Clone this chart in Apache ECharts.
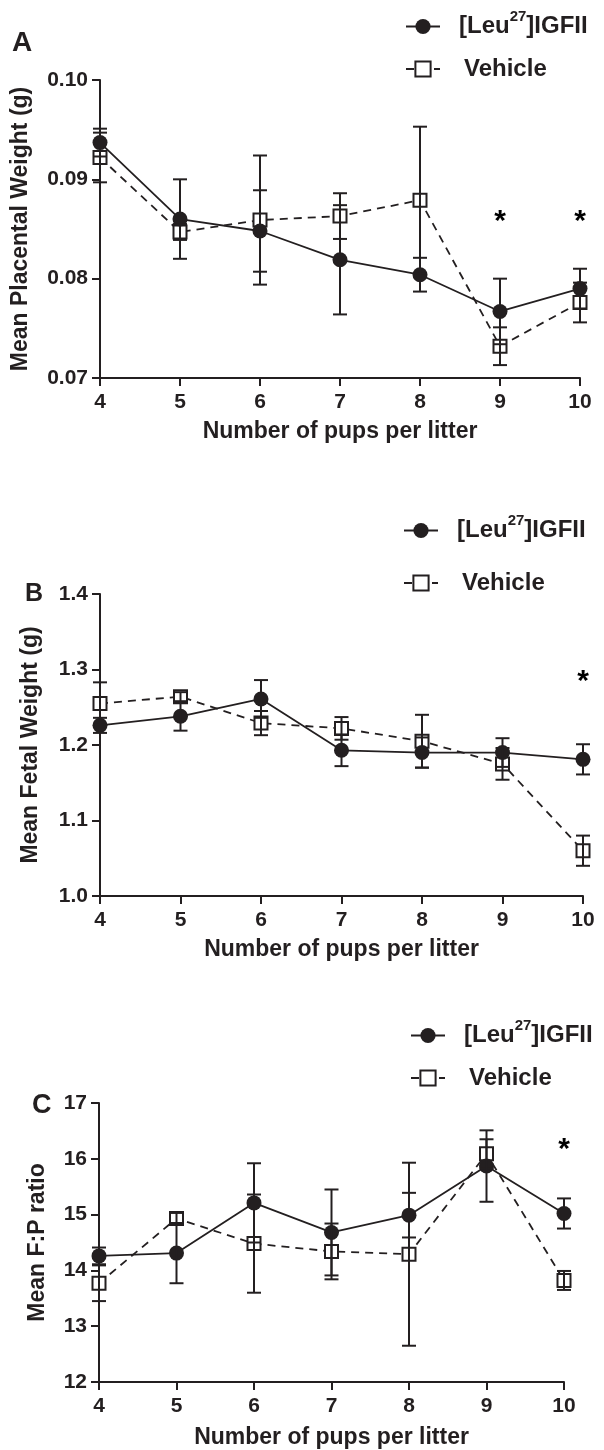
<!DOCTYPE html>
<html style="height: 100%">
  <head>
    <meta charset="UTF-8">
  </head>
  <body style="height: 100%; margin: 0; background: #fff">
    <div id="container" style="width: 604px; height: 1450px"></div>
    <script src="https://cdn.jsdelivr.net/npm/echarts@6/dist/echarts.min.js"></script>
    <script>
    // pups per litter
    var litter = [4, 5, 6, 7, 8, 9, 10];

    // A: placental weight (g)
    var aLeu = [0.0937, 0.0860, 0.0848, 0.0819, 0.0804, 0.0767, 0.0790];
    var aLeuErr = [0.0014, 0.0040, 0.0041, 0.0055, 0.0017, 0.0033, 0.0020];
    var aVeh = [0.0922, 0.0847, 0.0859, 0.0863, 0.0879, 0.0732, 0.0776];
    var aVehErr = [0.0025, 0.0008, 0.0065, 0.0023, 0.0074, 0.0019, 0.0020];
    var aStarX = [9, 10];
    var aStarY = [0.0864, 0.0864];

    // B: fetal weight (g)
    var bLeu = [1.226, 1.238, 1.261, 1.193, 1.190, 1.190, 1.181];
    var bLeuErr = [0.010, 0.019, 0.025, 0.021, 0.020, 0.019, 0.020];
    var bVeh = [1.255, 1.264, 1.229, 1.222, 1.205, 1.175, 1.060];
    var bVehErr = [0.028, 0.006, 0.016, 0.015, 0.035, 0.021, 0.020];
    var bStarX = [10];
    var bStarY = [1.293];

    // C: F:P ratio
    var cLeu = [14.26, 14.31, 15.21, 14.68, 14.99, 15.87, 15.02];
    var cLeuErr = [0.15, 0.54, 0.71, 0.77, 0.40, 0.64, 0.27];
    var cVeh = [13.77, 14.93, 14.48, 14.34, 14.29, 16.09, 13.82];
    var cVehErr = [0.32, 0.10, 0.88, 0.50, 1.64, 0.26, 0.17];
    var cStarX = [10];
    var cStarY = [16.29];

    var FONT = '"Liberation Sans", Arial, sans-serif';
    var INK = '#231f20';

    var chart = echarts.init(document.getElementById('container'), null, { renderer: 'canvas' });

    function pairs(xs, ys) {
      return xs.map(function (x, i) { return [x, ys[i]]; });
    }
    function bars(xs, ys, es) {
      return xs.map(function (x, i) { return [x, ys[i] - es[i], ys[i] + es[i]]; });
    }

    function renderErr(params, api) {
      var x = api.value(0);
      var lo = api.coord([x, api.value(1)]);
      var hi = api.coord([x, api.value(2)]);
      var w = 7;
      var st = { stroke: INK, lineWidth: 2 };
      return {
        type: 'group',
        children: [
          { type: 'line', shape: { x1: lo[0], y1: lo[1], x2: hi[0], y2: hi[1] }, style: st },
          { type: 'line', shape: { x1: hi[0] - w, y1: hi[1], x2: hi[0] + w, y2: hi[1] }, style: st },
          { type: 'line', shape: { x1: lo[0] - w, y1: lo[1], x2: lo[0] + w, y2: lo[1] }, style: st }
        ]
      };
    }

    function xAxisFor(i, gap) {
      return {
        type: 'value', gridIndex: i, min: 4, max: 10, interval: 1,
        name: 'Number of pups per litter', nameLocation: 'middle', nameGap: gap,
        nameTextStyle: { fontFamily: FONT, fontWeight: 'bold', fontSize: 23, color: INK },
        axisLine: { onZero: false, lineStyle: { color: INK, width: 2 } },
        axisTick: { length: 8, lineStyle: { color: INK, width: 2 } },
        axisLabel: { margin: 14, fontFamily: FONT, fontWeight: 'bold', fontSize: 21, color: INK },
        splitLine: { show: false }
      };
    }

    function yAxisFor(i, name, min, max, step, digits, gap) {
      return {
        type: 'value', gridIndex: i, min: min, max: max, interval: step,
        name: name, nameLocation: 'middle', nameGap: gap, nameRotate: 90,
        nameTextStyle: { fontFamily: FONT, fontWeight: 'bold', fontSize: 23, color: INK },
        axisLine: { show: true, lineStyle: { color: INK, width: 2 } },
        axisTick: { show: true, length: 8, lineStyle: { color: INK, width: 2 } },
        axisLabel: {
          margin: 12, fontFamily: FONT, fontWeight: 'bold', fontSize: 21, color: INK,
          formatter: function (v) { return v.toFixed(digits); }
        },
        splitLine: { show: false }
      };
    }

    function panelSeries(i, leu, leuErr, veh, vehErr, starX, starY) {
      return [
        {
          name: 'Vehicle', type: 'line', xAxisIndex: i, yAxisIndex: i,
          data: pairs(litter, veh),
          symbol: 'rect', symbolSize: 13,
          lineStyle: { color: INK, width: 1.8, type: [8, 6] },
          itemStyle: { color: '#fff', borderColor: INK, borderWidth: 2 },
          z: 3
        },
        {
          name: 'Leu', type: 'line', xAxisIndex: i, yAxisIndex: i,
          data: pairs(litter, leu),
          symbol: 'circle', symbolSize: 15,
          lineStyle: { color: INK, width: 1.8 },
          itemStyle: { color: INK },
          z: 4
        },
        {
          type: 'custom', xAxisIndex: i, yAxisIndex: i,
          data: bars(litter, veh, vehErr), renderItem: renderErr,
          encode: { x: 0, y: [1, 2] }, z: 5, silent: true
        },
        {
          type: 'custom', xAxisIndex: i, yAxisIndex: i,
          data: bars(litter, leu, leuErr), renderItem: renderErr,
          encode: { x: 0, y: [1, 2] }, z: 5, silent: true
        },
        {
          type: 'scatter', xAxisIndex: i, yAxisIndex: i,
          data: pairs(starX, starY), symbolSize: 0, silent: true,
          itemStyle: { opacity: 1, color: INK },
          label: {
            show: true, position: 'inside', formatter: '*', offset: [0, 7],
            fontFamily: FONT, fontWeight: 'bold', fontSize: 30, color: '#000', opacity: 1
          }
        }
      ];
    }

    function legendFor(left, top, gap) {
      return {
        orient: 'vertical', left: left, top: top, itemGap: gap,
        itemWidth: 34, itemHeight: 19, padding: 0,
        data: ['Leu', 'Vehicle'],
        formatter: function (n) {
          return n === 'Leu' ? '{s|}{t|[Leu}{sup|27}{t|]IGFII}' : '{v|}{t|Vehicle}';
        },
        textStyle: {
          fontFamily: FONT, fontWeight: 'bold', fontSize: 24, color: INK,
          rich: {
            s: { width: 14 },
            v: { width: 19 },
            t: { fontFamily: FONT, fontWeight: 'bold', fontSize: 24, color: INK, lineHeight: 26 },
            sup: { fontFamily: FONT, fontWeight: 'bold', fontSize: 15, color: INK, lineHeight: 16, padding: [0, 0, 20, 0] }
          }
        }
      };
    }

    var titleStyle = function (size) {
      return { fontFamily: FONT, fontWeight: 'bold', fontSize: size, color: INK };
    };

    var option = {
      backgroundColor: '#fff',
      animation: false,
      title: [
        { text: 'A', left: 12, top: 29, padding: 0, textStyle: titleStyle(28) },
        { text: 'B', left: 25, top: 582, padding: 0, textStyle: titleStyle(25) },
        { text: 'C', left: 32, top: 1092, padding: 0, textStyle: titleStyle(27) }
      ],
      legend: [
        legendFor(405, 9, 13),
        legendFor(403, 513, 23),
        legendFor(410, 1018, 13)
      ],
      grid: [
        { left: 100, top: 80, width: 480, height: 298 },
        { left: 100, top: 594, width: 483, height: 302 },
        { left: 99, top: 1103, width: 465, height: 281 }
      ],
      xAxis: [xAxisFor(0, 42), xAxisFor(1, 42), xAxisFor(2, 44)],
      yAxis: [
        yAxisFor(0, 'Mean Placental Weight (g)', 0.07, 0.10, 0.01, 2, 68),
        yAxisFor(1, 'Mean Fetal Weight (g)', 1.0, 1.4, 0.1, 1, 58),
        yAxisFor(2, 'Mean F:P ratio', 12, 17, 1, 0, 50)
      ],
      series: []
        .concat(panelSeries(0, aLeu, aLeuErr, aVeh, aVehErr, aStarX, aStarY))
        .concat(panelSeries(1, bLeu, bLeuErr, bVeh, bVehErr, bStarX, bStarY))
        .concat(panelSeries(2, cLeu, cLeuErr, cVeh, cVehErr, cStarX, cStarY))
    };

    chart.setOption(option);
    </script>
  </body>
</html>
